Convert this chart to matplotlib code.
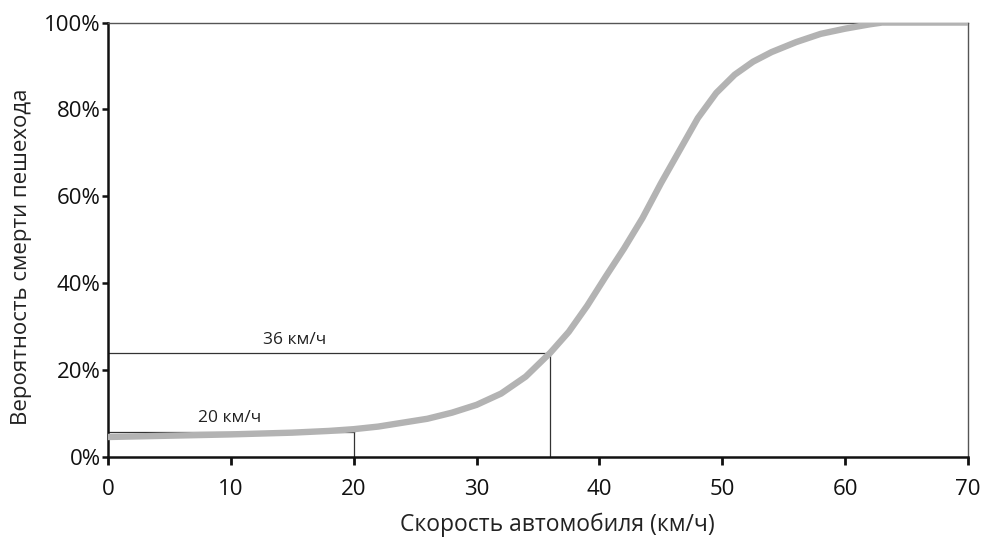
import matplotlib
matplotlib.use("Agg")
import matplotlib.pyplot as plt
from matplotlib.ticker import FuncFormatter

plt.rcParams['font.family'] = ['Open Sans', 'DejaVu Sans']

# скорость автомобиля (км/ч) и вероятность смерти пешехода (%)
speed = [0, 5, 10, 15, 18, 20, 22, 24, 26, 28, 30, 32, 34, 36, 37.5, 39, 40.5, 42, 43.5,
         45, 46.5, 48, 49.5, 51, 52.5, 54, 56, 58, 60, 62, 63, 70]
death_prob = [4.6, 4.9, 5.2, 5.6, 6.0, 6.4, 7.0, 7.9, 8.8, 10.2, 12.0, 14.6, 18.5, 24.0, 28.8,
              34.8, 41.5, 48.0, 55.0, 63.0, 70.5, 78.0, 83.8, 88.0, 91.0, 93.2, 95.5, 97.4,
              98.6, 99.6, 100.0, 100.0]

marks_speed = [36, 20]
marks_prob = [24, 5.8]
marks_label = ['36 км/ч', '20 км/ч']
label_pos_x = [15.2, 9.9]
label_pos_y = [26.9, 9.0]

fig = plt.figure(figsize=(9.89, 5.37), dpi=100)
ax = fig.add_axes([0.109, 0.149, 0.870, 0.809])

ax.plot(speed, death_prob, color='#b3b3b3', lw=4.6, solid_capstyle='butt',
        solid_joinstyle='round', zorder=3)

for s, p in zip(marks_speed, marks_prob):
    ax.plot([0, s], [p, p], color='#333333', lw=0.9, zorder=2)
    ax.plot([s, s], [0, p], color='#333333', lw=0.9, zorder=2)
for t, lx, ly in zip(marks_label, label_pos_x, label_pos_y):
    ax.text(lx, ly, t, fontsize=12.5, ha='center', va='center', color='#222222')

ax.set_xlim(0, 70)
ax.set_ylim(0, 100)
ax.set_xticks(range(0, 71, 10))
ax.set_yticks(range(0, 101, 20))
ax.yaxis.set_major_formatter(FuncFormatter(lambda v, pos: '%d%%' % v))

for side in ['left', 'bottom']:
    ax.spines[side].set_linewidth(1.8)
    ax.spines[side].set_color('#111111')
for side in ['top', 'right']:
    ax.spines[side].set_linewidth(1.0)
    ax.spines[side].set_color('#555555')

ax.tick_params(axis='x', direction='out', length=6, width=2, labelsize=16, pad=10, colors='#111111')
ax.tick_params(axis='y', direction='out', length=4, width=1.8, labelsize=16, pad=1, colors='#111111')

ax.set_xlabel('Скорость автомобиля (км/ч)', fontsize=16.5, color='#222222')
ax.set_ylabel('Вероятность смерти пешехода', fontsize=16, color='#222222')
ax.xaxis.set_label_coords(0.522, -0.128)
ax.yaxis.set_label_coords(-0.088, 0.46)

fig.savefig('out.png', dpi=100)
